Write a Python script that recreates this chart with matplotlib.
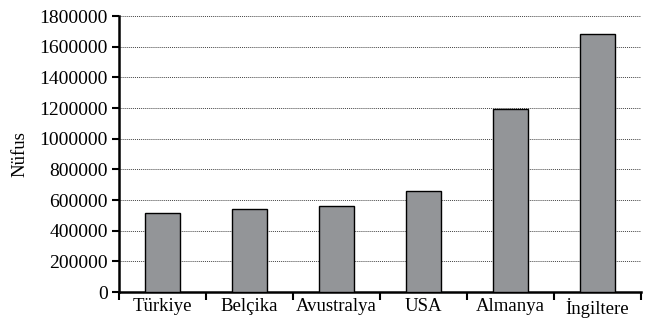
import matplotlib
matplotlib.use("Agg")
import matplotlib.pyplot as plt
import numpy as np

categories = ["Türkiye", "Belçika", "Avustralya", "USA", "Almanya", "İngiltere"]
values = [514000, 542000, 561000, 661000, 1195000, 1681000]
yticks = [0, 200000, 400000, 600000, 800000, 1000000, 1200000, 1400000, 1600000, 1800000]

plt.rcParams['font.family'] = ['Liberation Serif', 'DejaVu Serif']

fig = plt.figure(figsize=(6.49, 3.19), dpi=100)
ax = fig.add_axes([0.1834, 0.0846, 0.8043, 0.8652])

x = np.arange(len(categories))
ax.bar(x, values, width=0.4, color="#939598", edgecolor="black", linewidth=1.0, zorder=3)

ax.set_xlim(-0.5, len(categories) - 0.5)
ax.set_ylim(0, 1800000)
ax.set_yticks(yticks)
ax.set_yticklabels([str(v) for v in yticks])
ax.set_xticks(x)
ax.set_xticklabels(categories)
ax.set_xticks(np.arange(-0.5, len(categories)), minor=True)
ax.tick_params(axis='x', which='major', length=0, labelsize=13.5, pad=4)
ax.tick_params(axis='x', which='minor', length=6, width=1.5, direction='out')
ax.tick_params(axis='y', which='major', length=5, width=1.5, labelsize=14, pad=3)

for v in yticks[1:]:
    ax.axhline(v, color="#444444", linestyle=(0, (1, 1)), linewidth=0.7, zorder=1)

for s in ["top", "right"]:
    ax.spines[s].set_visible(False)
for s in ["left", "bottom"]:
    ax.spines[s].set_linewidth(1.8)

ax.set_ylabel("Nüfus", fontsize=13.5, labelpad=8)

fig.savefig("out.png", dpi=100)
